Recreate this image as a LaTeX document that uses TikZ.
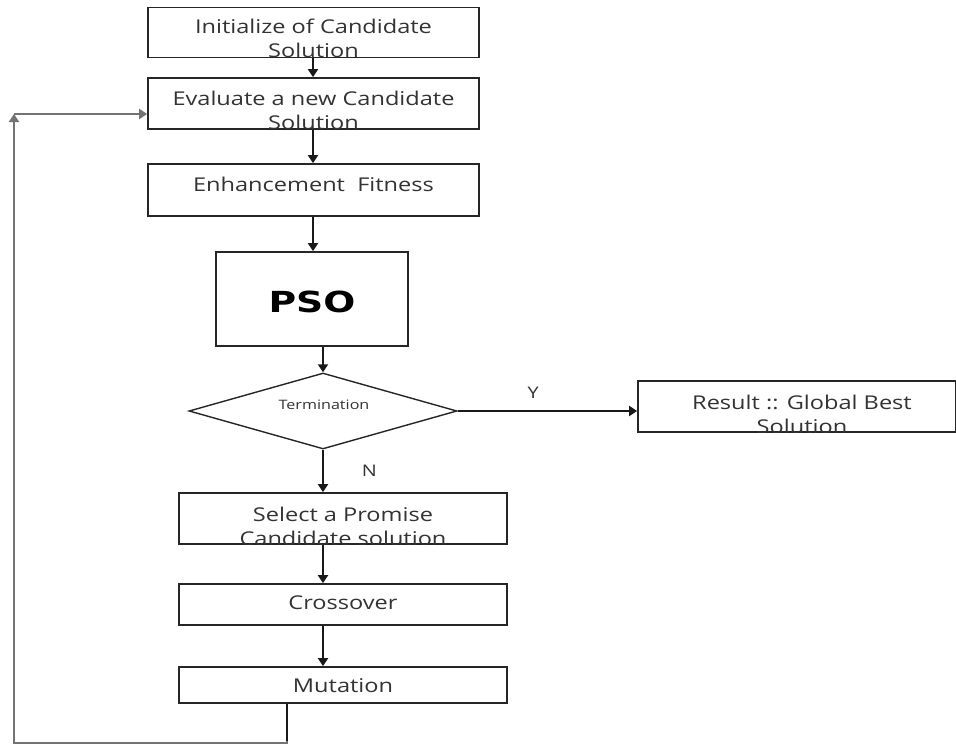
\documentclass[tikz,border=0pt]{standalone}
\usepackage{fontspec}
\setmainfont[FakeStretch=1.24]{Open Sans}
\newfontfamily\psofont{DejaVu Sans}
\usetikzlibrary{arrows.meta,shapes.geometric}
\newcommand\cliptext[3]{%
  \begin{scope}
    \clip (#1.south west) rectangle (#1.north east);
    \node[txt] at (#2) {#3};
  \end{scope}}
\begin{document}
\begin{tikzpicture}[x=1pt,y=-1pt,
  box/.style={draw=black!85,line width=1.7pt,inner sep=0pt,rectangle},
  txt/.style={text=black!80,font=\fontsize{19}{24}\selectfont,align=center,inner sep=0pt},
  arr/.style={line width=1.8pt,draw=black!90,-{Triangle[width=10pt,length=8pt]}},
  loopline/.style={line width=2.2pt,draw=black!55}]
\useasboundingbox (0,0) rectangle (956,744);
\fill[white] (0,0) rectangle (956,744);

\node[box,minimum width=331pt,minimum height=50pt] (init) at (313.5,32.5) {};
\cliptext{init}{313.5,38.5}{Initialize of Candidate\\Solution}

\node[box,minimum width=331pt,minimum height=51pt] (eval) at (313.5,103.5) {};
\cliptext{eval}{313.5,110}{Evaluate a new Candidate\\Solution}

\node[box,minimum width=331pt,minimum height=52pt] (enh) at (313.5,190) {};
\node[txt] (enht) at (313.5,184) {Enhancement\ \ Fitness};

\node[box,minimum width=192pt,minimum height=94pt] (pso) at (312,299) {};
\node[inner sep=0pt] (psot) at (312,302) {\psofont\bfseries\fontsize{29}{30}\selectfont\scalebox{1.3}[1]{PSO}};

\node[draw=black!85,line width=1.4pt,diamond,inner sep=0pt,minimum width=268pt,minimum height=76pt] (term) at (323,411) {};
\node[txt,font=\fontsize{13}{15}\selectfont] (termt) at (324,405) {Termination};

\node[box,minimum width=318pt,minimum height=51pt] (res) at (797,406.5) {};
\cliptext{res}{802,414}{Result :: Global Best\\Solution}

\node[box,minimum width=328pt,minimum height=51pt] (sel) at (343,518.5) {};
\cliptext{sel}{343,526}{Select a Promise\\Candidate solution}

\node[box,minimum width=328pt,minimum height=41pt] (cross) at (343,604.5) {};
\node[txt] (crosst) at (343,603) {Crossover};

\node[box,minimum width=328pt,minimum height=36pt] (mut) at (343,685) {};
\node[txt] (mutt) at (343,686) {Mutation};

% connectors
\draw[arr] (init.south -| 313,0) -- (eval.north -| 313,0);
\draw[arr] (eval.south -| 313,0) -- (enh.north -| 313,0);
\draw[arr] (enh.south -| 313,0) -- (pso.north -| 313,0);
\draw[arr] (pso.south -| 323,0) -- (term.north);
\draw[arr] (term.east) -- node[txt,font=\fontsize{16}{18}\selectfont,pos=0.42,above=12pt] (ylab) {Y} (res.west |- term.east);
\draw[arr] (term.south) -- node[txt,font=\fontsize{16}{18}\selectfont,right=38pt] (nlab) {N} (sel.north -| term.south);
\draw[arr] (sel.south -| 323,0) -- (cross.north -| 323,0);
\draw[arr] (cross.south -| 323,0) -- (mut.north -| 323,0);

\coordinate (c1) at (287,743);
\coordinate (c2) at (14,743);
\coordinate (c3) at (14,114);
\draw[line width=1.8pt,draw=black!90] (mut.south -| 287,0) -- (287,741);
\draw[loopline,-{Triangle[width=10pt,length=8pt]}] (287,741) -- (c1) -- (c2) -- (c3);
\draw[loopline,-{Triangle[width=10pt,length=8pt]}] (c3) -- (eval.west |- c3);
\end{tikzpicture}
\end{document}
